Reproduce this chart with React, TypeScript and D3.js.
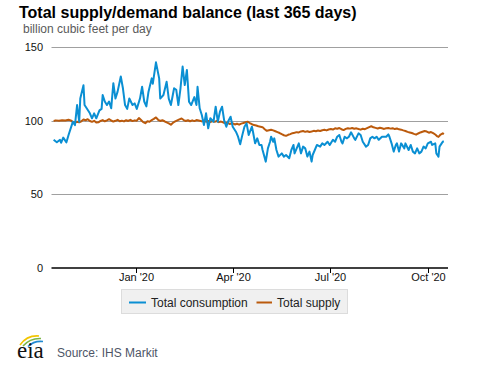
import React from "react";
import * as d3 from "d3";

const WIDTH = 477;
const HEIGHT = 367;

const TITLE = "Total supply/demand balance (last 365 days)";
const SUBTITLE = "billion cubic feet per day";
const SOURCE = "Source: IHS Markit";

const SERIES_NAMES = ["Total consumption", "Total supply"];
const SERIES_COLORS = ["#0a8fd3", "#bb5a0c"];

const Y_TICKS = [0, 50, 100, 150];
const X_TICK_DATES = ["2020-01-01", "2020-04-01", "2020-07-01", "2020-10-01"];
const X_TICK_LABELS = ["Jan '20", "Apr '20", "Jul '20", "Oct '20"];
const X_DOMAIN = ["2019-10-14", "2020-10-19"];

const consumption: [string, number][] = [
  ["2019-10-16", 87], ["2019-10-19", 85.3], ["2019-10-22", 87], ["2019-10-23", 85],
  ["2019-10-25", 88.5], ["2019-10-28", 85.3], ["2019-10-30", 90.3], ["2019-11-02", 97],
  ["2019-11-03", 99.3], ["2019-11-05", 97], ["2019-11-07", 110.6], ["2019-11-09", 99.3],
  ["2019-11-10", 115], ["2019-11-13", 124], ["2019-11-14", 110.6], ["2019-11-16", 108.4],
  ["2019-11-19", 105], ["2019-11-21", 101.6], ["2019-11-23", 105], ["2019-11-25", 101.6],
  ["2019-11-28", 107], ["2019-11-30", 108], ["2019-12-01", 117.4], ["2019-12-03", 113],
  ["2019-12-05", 110.6], ["2019-12-07", 113], ["2019-12-09", 108.4], ["2019-12-11", 125.4],
  ["2019-12-13", 115], ["2019-12-15", 119.7], ["2019-12-18", 130], ["2019-12-20", 122],
  ["2019-12-22", 110.6], ["2019-12-24", 108], ["2019-12-26", 115], ["2019-12-29", 110.6],
  ["2019-12-31", 111.7], ["2020-01-02", 108], ["2020-01-05", 115], ["2020-01-07", 123],
  ["2020-01-09", 113], ["2020-01-11", 109.7], ["2020-01-13", 119.7], ["2020-01-16", 128.7],
  ["2020-01-17", 125], ["2020-01-20", 139.6], ["2020-01-23", 128.7], ["2020-01-24", 115],
  ["2020-01-27", 117.4], ["2020-01-30", 126.4], ["2020-02-01", 115], ["2020-02-03", 110.6],
  ["2020-02-06", 122], ["2020-02-08", 121], ["2020-02-10", 110.6], ["2020-02-12", 122],
  ["2020-02-14", 136.7], ["2020-02-16", 124.2], ["2020-02-18", 134.4], ["2020-02-20", 112.9],
  ["2020-02-22", 110.6], ["2020-02-25", 116], ["2020-02-27", 110.6], ["2020-02-28", 123],
  ["2020-03-01", 108.4], ["2020-03-03", 103.8], ["2020-03-05", 97], ["2020-03-07", 105],
  ["2020-03-09", 94.8], ["2020-03-11", 101.6], ["2020-03-14", 99.3], ["2020-03-16", 109.5],
  ["2020-03-18", 99.3], ["2020-03-20", 106.1], ["2020-03-22", 109.5], ["2020-03-24", 100],
  ["2020-03-26", 95.9], ["2020-03-28", 100], ["2020-03-30", 102.7], ["2020-04-01", 95.9],
  ["2020-04-04", 92.5], ["2020-04-06", 89.1], ["2020-04-08", 84], ["2020-04-10", 90.2],
  ["2020-04-12", 95.9], ["2020-04-14", 98.2], ["2020-04-16", 90.3], ["2020-04-19", 95.9],
  ["2020-04-20", 92.5], ["2020-04-22", 84.6], ["2020-04-24", 88], ["2020-04-26", 83.5],
  ["2020-04-28", 83.5], ["2020-04-29", 80.1], ["2020-05-02", 72.2], ["2020-05-04", 81.2],
  ["2020-05-06", 85.7], ["2020-05-07", 89.1], ["2020-05-09", 85.7], ["2020-05-10", 88],
  ["2020-05-12", 80.1], ["2020-05-14", 75.6], ["2020-05-17", 77.8], ["2020-05-19", 75.6],
  ["2020-05-21", 76.7], ["2020-05-24", 74.5], ["2020-05-26", 80.1], ["2020-05-28", 83.5],
  ["2020-05-29", 77.8], ["2020-05-31", 81.2], ["2020-06-02", 84.6], ["2020-06-04", 77.8],
  ["2020-06-06", 82.4], ["2020-06-08", 81.2], ["2020-06-10", 75.6], ["2020-06-12", 79],
  ["2020-06-14", 72.2], ["2020-06-15", 76.7], ["2020-06-17", 80.1], ["2020-06-19", 83.5],
  ["2020-06-22", 82.4], ["2020-06-24", 84.6], ["2020-06-26", 83.5], ["2020-06-29", 85.7],
  ["2020-07-01", 83.5], ["2020-07-04", 87], ["2020-07-06", 85.7], ["2020-07-08", 89.1],
  ["2020-07-10", 90.3], ["2020-07-12", 85.7], ["2020-07-13", 84.6], ["2020-07-15", 89.1],
  ["2020-07-17", 88], ["2020-07-19", 89.1], ["2020-07-21", 92.1], ["2020-07-24", 88],
  ["2020-07-25", 87], ["2020-07-28", 91.4], ["2020-07-30", 90.3], ["2020-08-01", 85.7],
  ["2020-08-04", 82.4], ["2020-08-06", 83.5], ["2020-08-08", 88], ["2020-08-10", 89.1],
  ["2020-08-12", 88], ["2020-08-14", 89.1], ["2020-08-16", 87], ["2020-08-19", 89.1],
  ["2020-08-21", 89.1], ["2020-08-23", 89.1], ["2020-08-25", 90.7], ["2020-08-26", 89.1],
  ["2020-08-28", 84.6], ["2020-08-30", 79], ["2020-09-01", 83.5], ["2020-09-02", 84.6],
  ["2020-09-04", 79], ["2020-09-06", 84.6], ["2020-09-09", 81.2], ["2020-09-10", 84.6],
  ["2020-09-13", 80.1], ["2020-09-15", 83.5], ["2020-09-17", 79], ["2020-09-19", 77.8],
  ["2020-09-21", 81.2], ["2020-09-23", 77.8], ["2020-09-25", 79], ["2020-09-27", 82.4],
  ["2020-09-29", 81.2], ["2020-10-01", 84.6], ["2020-10-04", 85.7], ["2020-10-05", 83.5],
  ["2020-10-08", 84.6], ["2020-10-09", 77.8], ["2020-10-11", 75.6], ["2020-10-12", 82.4],
  ["2020-10-14", 84.6], ["2020-10-15", 85.7], ["2020-10-16", 86],
];

const supply: [string, number][] = [
  ["2019-10-16", 99.8], ["2019-10-18", 100.2], ["2019-10-21", 99.9], ["2019-10-24", 100.3],
  ["2019-10-27", 100.1], ["2019-10-30", 100.6], ["2019-11-01", 100.2], ["2019-11-03", 99.2],
  ["2019-11-05", 98.6], ["2019-11-07", 99.3], ["2019-11-09", 98.9], ["2019-11-11", 99.6],
  ["2019-11-13", 100.8], ["2019-11-15", 100.3], ["2019-11-17", 101.0], ["2019-11-19", 99.8],
  ["2019-11-21", 99.2], ["2019-11-23", 99.9], ["2019-11-25", 98.7], ["2019-11-27", 98.9],
  ["2019-11-29", 99.8], ["2019-12-01", 100.4], ["2019-12-03", 99.6], ["2019-12-05", 100.2],
  ["2019-12-07", 101.0], ["2019-12-09", 100.1], ["2019-12-11", 99.4], ["2019-12-13", 99.9],
  ["2019-12-15", 100.6], ["2019-12-17", 99.6], ["2019-12-19", 100.0], ["2019-12-21", 99.5],
  ["2019-12-23", 100.3], ["2019-12-25", 99.8], ["2019-12-27", 100.6], ["2019-12-29", 99.7],
  ["2019-12-31", 100.2], ["2020-01-02", 100.0], ["2020-01-04", 101.8], ["2020-01-06", 100.4],
  ["2020-01-08", 99.0], ["2020-01-10", 98.3], ["2020-01-12", 99.6], ["2020-01-14", 99.3],
  ["2020-01-16", 100.4], ["2020-01-18", 101.2], ["2020-01-20", 102.2], ["2020-01-22", 100.6],
  ["2020-01-24", 99.8], ["2020-01-26", 100.3], ["2020-01-28", 99.6], ["2020-01-30", 98.8],
  ["2020-02-01", 98.2], ["2020-02-03", 97.3], ["2020-02-05", 98.6], ["2020-02-07", 99.5],
  ["2020-02-09", 100.2], ["2020-02-11", 100.9], ["2020-02-13", 101.5], ["2020-02-15", 100.4],
  ["2020-02-17", 99.8], ["2020-02-19", 100.3], ["2020-02-21", 99.6], ["2020-02-23", 100.2],
  ["2020-02-25", 99.7], ["2020-02-27", 100.4], ["2020-03-01", 99.9], ["2020-03-03", 99.5],
  ["2020-03-05", 100.1], ["2020-03-07", 99.3], ["2020-03-09", 99.8], ["2020-03-11", 99.1],
  ["2020-03-13", 99.7], ["2020-03-15", 99.2], ["2020-03-17", 99.8], ["2020-03-19", 99.0],
  ["2020-03-21", 99.4], ["2020-03-23", 98.8], ["2020-03-25", 98.3], ["2020-03-27", 98.6],
  ["2020-03-29", 97.8], ["2020-04-01", 98.2], ["2020-04-03", 97.4], ["2020-04-05", 97.9],
  ["2020-04-07", 97.3], ["2020-04-09", 98.0], ["2020-04-11", 98.4], ["2020-04-13", 98.9],
  ["2020-04-15", 99.3], ["2020-04-17", 98.4], ["2020-04-19", 97.6], ["2020-04-21", 97.0],
  ["2020-04-23", 96.7], ["2020-04-25", 96.2], ["2020-04-27", 95.9], ["2020-04-29", 95.6],
  ["2020-05-01", 94.2], ["2020-05-03", 93.1], ["2020-05-05", 93.5], ["2020-05-07", 93.8],
  ["2020-05-09", 93.4], ["2020-05-11", 92.8], ["2020-05-13", 92.2], ["2020-05-15", 91.6],
  ["2020-05-17", 90.8], ["2020-05-19", 90.1], ["2020-05-21", 89.7], ["2020-05-23", 90.4],
  ["2020-05-25", 90.9], ["2020-05-27", 91.5], ["2020-05-29", 91.8], ["2020-05-31", 92.2],
  ["2020-06-02", 92.0], ["2020-06-04", 92.7], ["2020-06-06", 93.0], ["2020-06-08", 92.4],
  ["2020-06-10", 92.8], ["2020-06-12", 92.3], ["2020-06-14", 92.6], ["2020-06-16", 93.1],
  ["2020-06-18", 92.8], ["2020-06-20", 93.3], ["2020-06-22", 93.0], ["2020-06-24", 93.5],
  ["2020-06-26", 93.8], ["2020-06-28", 93.4], ["2020-06-30", 94.0], ["2020-07-02", 94.3],
  ["2020-07-04", 94.0], ["2020-07-06", 94.8], ["2020-07-08", 94.5], ["2020-07-10", 95.0],
  ["2020-07-12", 94.2], ["2020-07-14", 93.6], ["2020-07-16", 94.4], ["2020-07-18", 94.9],
  ["2020-07-20", 94.6], ["2020-07-22", 95.0], ["2020-07-24", 94.5], ["2020-07-26", 94.8],
  ["2020-07-28", 94.3], ["2020-07-30", 93.9], ["2020-08-01", 94.5], ["2020-08-03", 94.2],
  ["2020-08-05", 94.9], ["2020-08-07", 95.6], ["2020-08-09", 96.2], ["2020-08-11", 95.5],
  ["2020-08-13", 95.1], ["2020-08-15", 94.7], ["2020-08-17", 95.2], ["2020-08-19", 94.8],
  ["2020-08-21", 94.4], ["2020-08-23", 94.9], ["2020-08-25", 95.0], ["2020-08-27", 94.6],
  ["2020-08-29", 94.9], ["2020-08-31", 94.3], ["2020-09-02", 94.7], ["2020-09-04", 94.1],
  ["2020-09-06", 93.9], ["2020-09-08", 93.4], ["2020-09-10", 93.0], ["2020-09-12", 92.4],
  ["2020-09-14", 92.0], ["2020-09-16", 91.6], ["2020-09-18", 91.0], ["2020-09-20", 90.5],
  ["2020-09-22", 91.3], ["2020-09-24", 92.0], ["2020-09-26", 92.5], ["2020-09-28", 93.0],
  ["2020-09-30", 92.6], ["2020-10-02", 91.8], ["2020-10-04", 92.3], ["2020-10-06", 91.5],
  ["2020-10-08", 90.6], ["2020-10-10", 89.3], ["2020-10-11", 89.0], ["2020-10-13", 90.6],
  ["2020-10-15", 91.4], ["2020-10-16", 90.8],
];

const parse = d3.utcParse("%Y-%m-%d");

export default function App() {
  const left = 51.5;
  const right = 447;
  const top = 47;
  const bottom = 268;

  const x = d3
    .scaleUtc()
    .domain(X_DOMAIN.map((s) => parse(s) as Date))
    .range([left, right]);
  const y = d3.scaleLinear().domain([0, 150]).range([bottom, top]);

  const line = d3
    .line<[string, number]>()
    .x((d) => x(parse(d[0]) as Date))
    .y((d) => y(d[1]))
    .curve(d3.curveLinear);

  const font = "Arial, 'Liberation Sans', Helvetica, sans-serif";

  const legendY = 302.5;

  return (
    <svg
      width={WIDTH}
      height={HEIGHT}
      style={{ position: "absolute", left: 0, top: 0, background: "#fff" }}
      fontFamily={font}
    >
      <text x={19} y={17.5} fontSize={16} fontWeight="bold" fill="#000">
        {TITLE}
      </text>
      <text x={23} y={33} fontSize={12} fill="#5a5a5a">
        {SUBTITLE}
      </text>

      {Y_TICKS.map((t) => (
        <g key={t}>
          {t !== 0 && (
            <line x1={left} x2={right + 1} y1={Math.round(y(t)) + 0.5} y2={Math.round(y(t)) + 0.5} stroke="#a0a0a0" strokeWidth={1} />
          )}
          <text x={43} y={y(t) + 4} fontSize={11} textAnchor="end" fill="#111">
            {t}
          </text>
        </g>
      ))}

      <path d={line(supply) || ""} fill="none" stroke={SERIES_COLORS[1]} strokeWidth={2} strokeLinejoin="round" />
      <path d={line(consumption) || ""} fill="none" stroke={SERIES_COLORS[0]} strokeWidth={2} strokeLinejoin="round" />

      <line x1={left} x2={right + 1} y1={bottom} y2={bottom} stroke="#000" strokeWidth={1.5} />
      {X_TICK_DATES.map((s, i) => {
        const xp = Math.round(x(parse(s) as Date)) + 0.5;
        return (
          <g key={s}>
            <line x1={xp} x2={xp} y1={bottom} y2={bottom + 5} stroke="#000" strokeWidth={1} />
            <text x={xp} y={281} fontSize={11} textAnchor="middle" fill="#111">
              {X_TICK_LABELS[i]}
            </text>
          </g>
        );
      })}

      <rect x={121.5} y={289.5} width={226} height={24} fill="#f0f0f0" stroke="#dcdcdc" />
      <line x1={129} x2={146} y1={legendY} y2={legendY} stroke={SERIES_COLORS[0]} strokeWidth={2} />
      <text x={151} y={legendY + 4.5} fontSize={12} fill="#222">
        {SERIES_NAMES[0]}
      </text>
      <line x1={256.5} x2={272} y1={legendY} y2={legendY} stroke={SERIES_COLORS[1]} strokeWidth={2} />
      <text x={277} y={legendY + 4.5} fontSize={12} fill="#222">
        {SERIES_NAMES[1]}
      </text>

      <g>
        <path d="M20,345 Q27,335 39,336" fill="none" stroke="#f2c500" strokeWidth={1.6} />
        <path d="M23,346 Q30,338 41,338.5" fill="none" stroke="#7ab648" strokeWidth={1.6} />
        <path d="M28,346.5 Q34,340.5 43,341.5" fill="none" stroke="#1f8ad2" strokeWidth={1.6} />
        <text x={17} y={357.5} fontSize={23} fontFamily="'Liberation Serif', 'DejaVu Serif', serif" fill="#111">
          eia
        </text>
      </g>
      <text x={57} y={356.5} fontSize={12} fill="#4e5566">
        {SOURCE}
      </text>
    </svg>
  );
}
